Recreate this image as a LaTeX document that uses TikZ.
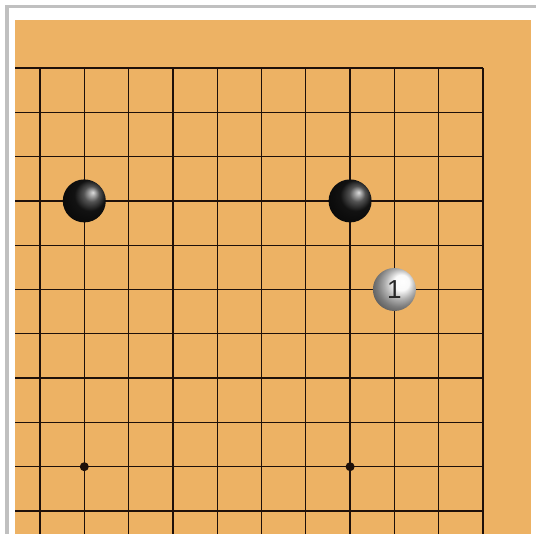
\documentclass[tikz,border=0pt]{standalone}
\usepackage{fontspec}
\newfontfamily\stonefont{Liberation Sans}
\usetikzlibrary{calc}

\definecolor{woodcol}{RGB}{237,178,100}
\definecolor{framecol}{RGB}{192,192,192}
\definecolor{linecol}{RGB}{30,16,10}

\begin{document}
\begin{tikzpicture}[x=1pt,y=-1pt]

% --------------------
% Parameters (pixel units, origin top left)
% --------------------
\def\cell{44.3}    % grid spacing
\def\gx{40}        % first vertical line
\def\gy{68}        % top edge line
\def\stoneR{21.5}  % stone radius

\tikzset{
  gridline/.style={draw=linecol, line width=1.3pt},
  hoshi/.style={circle, fill=linecol, inner sep=0pt, minimum size=9pt},
  blackstone/.style={circle, inner sep=0pt, minimum size=2*\stoneR pt,
    shading=ball, ball color=black!90, shading angle=-90},
  whitestone/.style={circle, inner sep=0pt, minimum size=2*\stoneR pt,
    shading=ball, ball color=gray!6, shading angle=-90,
    font=\stonefont\fontsize{26}{26}\selectfont, text=black!85}
}

\useasboundingbox (0,0) rectangle (536,534);

% --------------------
% Frame and board
% --------------------
\fill[white] (0,0) rectangle (536,534);
\fill[framecol] (5,5) rectangle (536,8.5);
\fill[framecol] (5,5) rectangle (8.5,534);
\fill[woodcol] (15,20) rectangle (531,534);

% --------------------
% Grid (top right corner, board runs on to the left and below)
% --------------------
\foreach \i in {0,...,10}{
  \draw[gridline] ({\gx+\i*\cell},\gy) -- ({\gx+\i*\cell},534);
  \draw[gridline] (15,{\gy+\i*\cell}) -- ({\gx+10*\cell},{\gy+\i*\cell});
}

% star points
\node[hoshi] (tengen) at ({\gx+\cell},{\gy+9*\cell}) {};
\node[hoshi] (side) at ({\gx+7*\cell},{\gy+9*\cell}) {};

% --------------------
% Stones
% --------------------
\node[blackstone] (b1) at ({\gx+\cell},{\gy+3*\cell}) {};
\node[blackstone] (b2) at ({\gx+7*\cell},{\gy+3*\cell}) {};
\node[whitestone] (w1) at ({\gx+8*\cell},{\gy+5*\cell}) {1};

\end{tikzpicture}
\end{document}
